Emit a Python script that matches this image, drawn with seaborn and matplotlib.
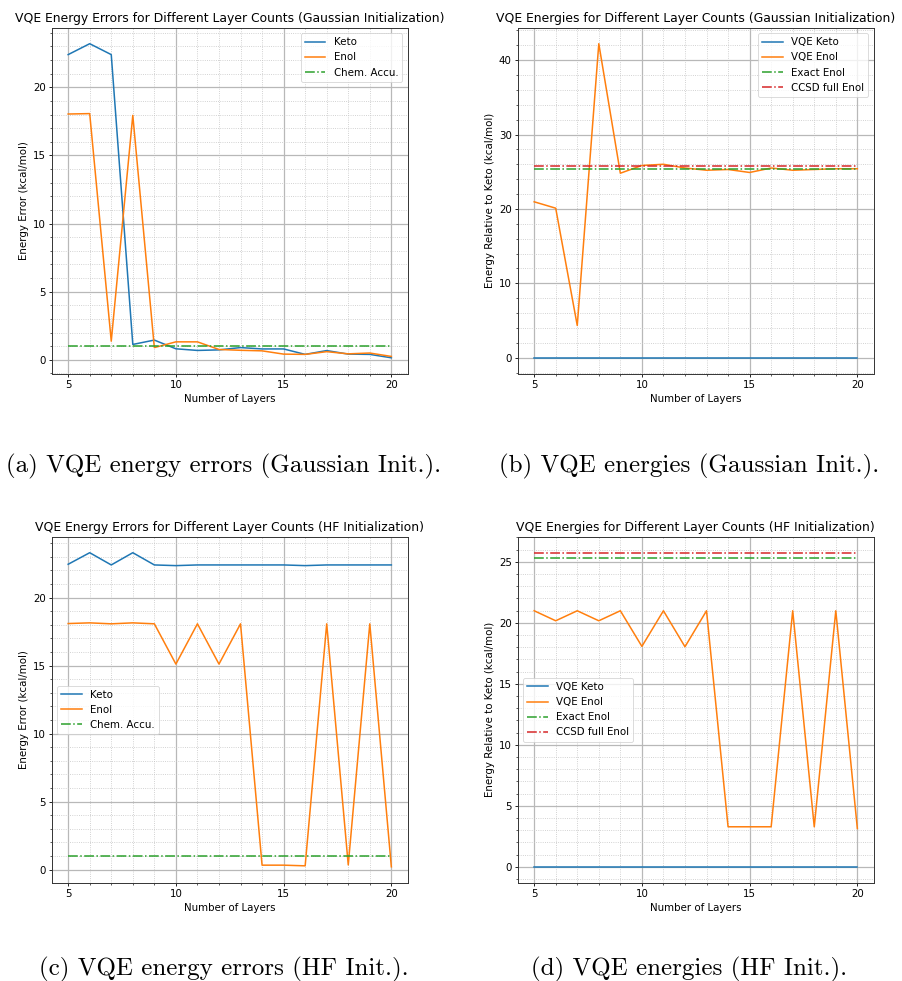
import matplotlib
matplotlib.use("Agg")
import matplotlib.pyplot as plt
import seaborn as sns
import numpy as np

layers = [5, 6, 7, 8, 9, 10, 11, 12, 13, 14, 15, 16, 17, 18, 19, 20]

# (a) Gaussian init, energy errors
gauss_err_keto = [22.4, 23.2, 22.4, 1.13, 1.45, 0.81, 0.69, 0.73, 0.9, 0.8, 0.8, 0.4, 0.68, 0.42, 0.4, 0.15]
gauss_err_enol = [18.04, 18.07, 1.37, 17.94, 0.9, 1.32, 1.32, 0.76, 0.7, 0.66, 0.42, 0.4, 0.6, 0.44, 0.5, 0.25]

# (b) Gaussian init, energies relative to keto
gauss_rel_keto = [0.0] * 16
gauss_rel_enol = [20.96, 20.1, 4.34, 42.2, 24.8, 25.84, 26.0, 25.5, 25.2, 25.3, 24.9, 25.5, 25.2, 25.3, 25.4, 25.4]

# (c) HF init, energy errors
hf_err_keto = [22.45, 23.3, 22.4, 23.3, 22.4, 22.35, 22.4, 22.4, 22.4, 22.4, 22.4, 22.35, 22.4, 22.4, 22.4, 22.4]
hf_err_enol = [18.09, 18.14, 18.07, 18.14, 18.07, 15.11, 18.07, 15.11, 18.07, 0.32, 0.32, 0.27, 18.07, 0.34, 18.07, 0.2]

# (d) HF init, energies relative to keto
hf_rel_keto = [0.0] * 16
hf_rel_enol = [20.99, 20.17, 20.99, 20.17, 20.99, 18.07, 20.99, 18.04, 20.99, 3.28, 3.28, 3.28, 20.99, 3.28, 20.99, 3.14]

chem_accuracy = 1.0
exact_enol = 25.3
ccsd_enol = 25.75

titles = [
    "VQE Energy Errors for Different Layer Counts (Gaussian Initialization)",
    "VQE Energies for Different Layer Counts (Gaussian Initialization)",
    "VQE Energy Errors for Different Layer Counts (HF Initialization)",
    "VQE Energies for Different Layer Counts (HF Initialization)",
]
captions = [
    "(a) VQE energy errors (Gaussian Init.).",
    "(b) VQE energies (Gaussian Init.).",
    "(c) VQE energy errors (HF Init.).",
    "(d) VQE energies (HF Init.).",
]
xlabel = "Number of Layers"
ylabel_err = "Energy Error (kcal/mol)"
ylabel_rel = "Energy Relative to Keto (kcal/mol)"

FS = 7.4
plt.rcParams.update({
    "font.family": ["DejaVu Sans"],
    "font.size": FS,
    "axes.linewidth": 0.7,
    "axes.edgecolor": "#333333",
    "xtick.major.width": 0.6,
    "ytick.major.width": 0.6,
    "xtick.minor.width": 0.45,
    "ytick.minor.width": 0.45,
    "xtick.major.size": 2.5,
    "ytick.major.size": 2.5,
    "xtick.minor.size": 1.4,
    "ytick.minor.size": 1.4,
    "xtick.labelsize": FS,
    "ytick.labelsize": FS,
    "legend.fontsize": FS,
})

fig = plt.figure(figsize=(9.03, 9.81), dpi=100)
W, H = 903.0, 981.0
boxes = [(52, 28), (518, 28), (52, 537), (518, 537)]
aw, ah = 355.5, 345.5
axes = []
for (l, t) in boxes:
    ax = fig.add_axes([l / W, 1 - (t + ah) / H, aw / W, ah / H])
    axes.append(ax)

pal = sns.color_palette("tab10")
c_blue, c_orange, c_green, c_red = pal[0], pal[1], pal[2], pal[3]
LW = 1.1

def style(ax, title, ylabel, legend_loc):
    ax.set_title(title, fontsize=8.9, pad=4)
    ax.set_xlabel(xlabel, fontsize=FS, labelpad=2.8)
    ax.set_ylabel(ylabel, fontsize=FS, labelpad=3)
    ax.set_xticks([5, 10, 15, 20])
    ax.minorticks_on()
    ax.grid(True, which="major", color="#b8b8b8", linewidth=0.9, linestyle="-")
    ax.grid(True, which="minor", color="#c4c4c4", linewidth=0.6, linestyle=":")
    ax.set_axisbelow(True)
    ax.tick_params(pad=2)
    leg = ax.legend(loc=legend_loc, fontsize=FS, framealpha=0.8, edgecolor="#cccccc",
                    handlelength=2.0, borderpad=0.4, labelspacing=0.5, fancybox=True)
    leg.get_frame().set_linewidth(0.6)

# (a)
ax = axes[0]
sns.lineplot(x=layers, y=gauss_err_keto, ax=ax, color=c_blue, lw=LW, label="Keto")
sns.lineplot(x=layers, y=gauss_err_enol, ax=ax, color=c_orange, lw=LW, label="Enol")
sns.lineplot(x=layers, y=[chem_accuracy] * len(layers), ax=ax, color=c_green, lw=LW, linestyle="-.", label="Chem. Accu.")
style(ax, titles[0], ylabel_err, "upper right")

# (b)
ax = axes[1]
sns.lineplot(x=layers, y=gauss_rel_keto, ax=ax, color=c_blue, lw=LW, label="VQE Keto")
sns.lineplot(x=layers, y=gauss_rel_enol, ax=ax, color=c_orange, lw=LW, label="VQE Enol")
sns.lineplot(x=layers, y=[exact_enol] * len(layers), ax=ax, color=c_green, lw=LW, linestyle="-.", label="Exact Enol")
sns.lineplot(x=layers, y=[ccsd_enol] * len(layers), ax=ax, color=c_red, lw=LW, linestyle="-.", label="CCSD full Enol")
style(ax, titles[1], ylabel_rel, "upper right")

# (c)
ax = axes[2]
sns.lineplot(x=layers, y=hf_err_keto, ax=ax, color=c_blue, lw=LW, label="Keto")
sns.lineplot(x=layers, y=hf_err_enol, ax=ax, color=c_orange, lw=LW, label="Enol")
sns.lineplot(x=layers, y=[chem_accuracy] * len(layers), ax=ax, color=c_green, lw=LW, linestyle="-.", label="Chem. Accu.")
style(ax, titles[2], ylabel_err, "center left")

# (d)
ax = axes[3]
sns.lineplot(x=layers, y=hf_rel_keto, ax=ax, color=c_blue, lw=LW, label="VQE Keto")
sns.lineplot(x=layers, y=hf_rel_enol, ax=ax, color=c_orange, lw=LW, label="VQE Enol")
sns.lineplot(x=layers, y=[exact_enol] * len(layers), ax=ax, color=c_green, lw=LW, linestyle="-.", label="Exact Enol")
sns.lineplot(x=layers, y=[ccsd_enol] * len(layers), ax=ax, color=c_red, lw=LW, linestyle="-.", label="CCSD full Enol")
style(ax, titles[3], ylabel_rel, "center left")

cap_pos = [(224, 466), (689, 466), (224, 969), (689, 969)]
for (cx, cy), txt in zip(cap_pos, captions):
    fig.text(cx / W, 1 - cy / H, txt, ha="center", va="center",
             fontsize=18, family=["cmr10", "DejaVu Serif"])

fig.savefig("out.png", dpi=100)
